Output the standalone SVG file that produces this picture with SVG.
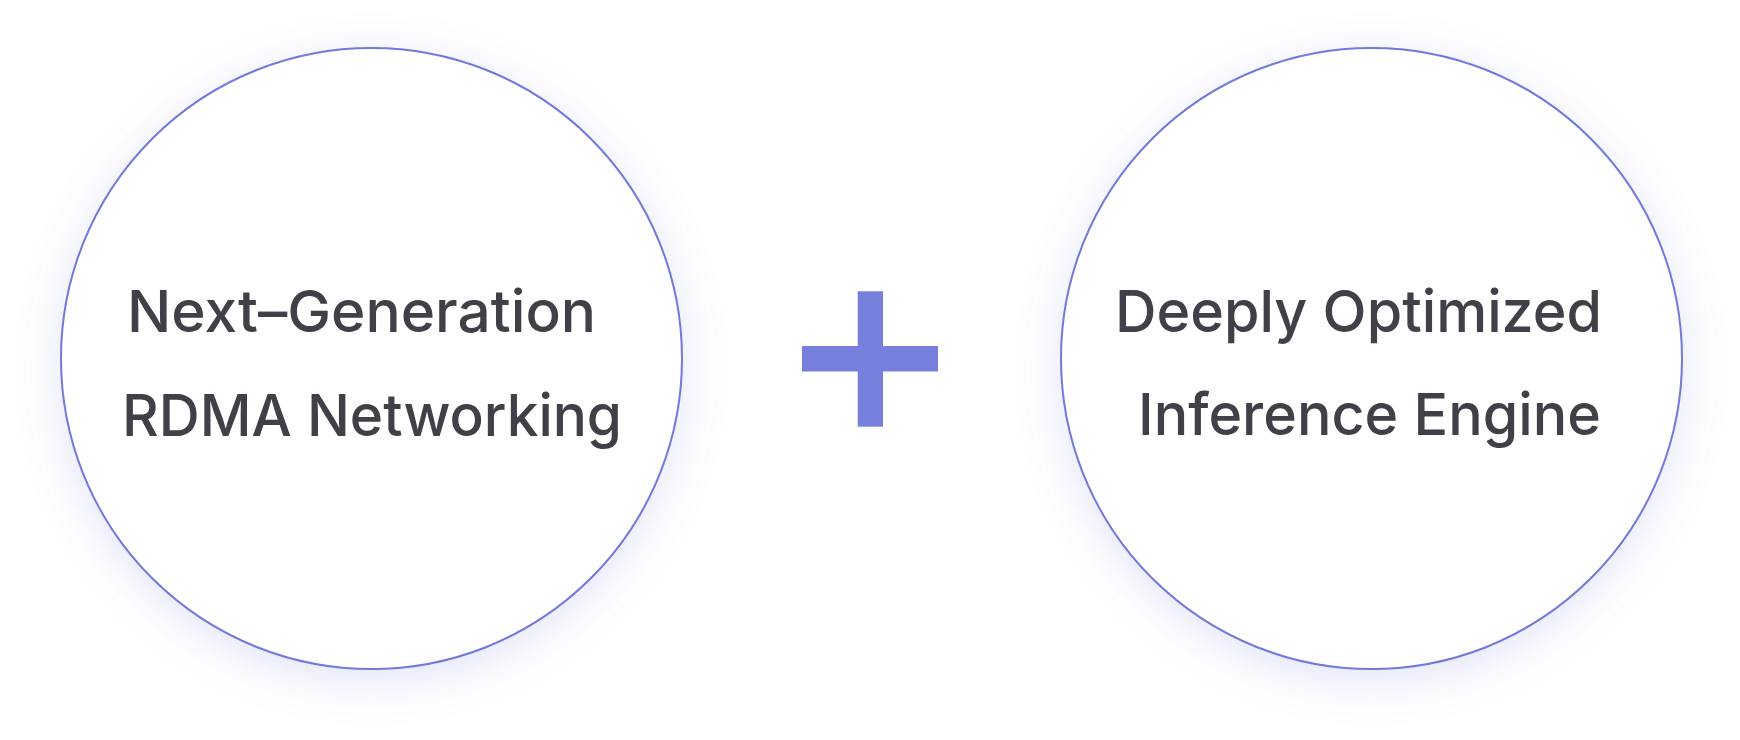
<svg xmlns="http://www.w3.org/2000/svg" width="1740" height="740" viewBox="0 0 1740 740">
  <defs>
    <filter id="glow" x="-30%" y="-30%" width="160%" height="160%">
      <feGaussianBlur in="SourceAlpha" stdDeviation="22"/>
      <feOffset dx="0" dy="10" result="b"/>
      <feFlood flood-color="#6f78e0" flood-opacity="0.2"/>
      <feComposite in2="b" operator="in"/>
      <feMerge>
        <feMergeNode/>
        <feMergeNode in="SourceGraphic"/>
      </feMerge>
    </filter>
  </defs>
  <style>
    .circle { fill: #ffffff; stroke: #7179dd; stroke-width: 2; }
    .label { font-family: Inter, "Noto Sans", "Liberation Sans", sans-serif; font-weight: 500; font-size: 58px; fill: #404048; }
    .plus { fill: #7680dc; }
  </style>
  <rect width="1740" height="740" fill="#ffffff"/>
  <g id="node-rdma">
    <circle class="circle" cx="371.5" cy="358.5" r="310.5" filter="url(#glow)"/>
    <text class="label" x="127" y="332" textLength="469" lengthAdjust="spacingAndGlyphs">Next–Generation</text>
    <text class="label" x="122" y="436" textLength="500" lengthAdjust="spacingAndGlyphs">RDMA Networking</text>
  </g>
  <g id="node-plus">
    <rect class="plus" x="802" y="346" width="136" height="25.5"/>
    <rect class="plus" x="857.7" y="291.3" width="25.3" height="135.4"/>
  </g>
  <g id="node-engine">
    <circle class="circle" cx="1371.5" cy="358.5" r="310.5" filter="url(#glow)"/>
    <text class="label" x="1115" y="332" textLength="487" lengthAdjust="spacingAndGlyphs">Deeply Optimized</text>
    <text class="label" x="1138" y="435" textLength="463" lengthAdjust="spacingAndGlyphs">Inference Engine</text>
  </g>
  <g id="connectors"/>
</svg>
